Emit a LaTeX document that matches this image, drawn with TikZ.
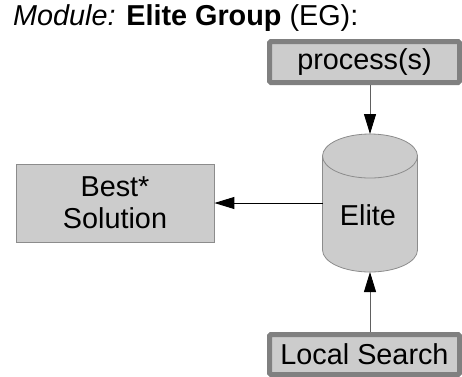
\documentclass[tikz,border=0pt]{standalone}
\usepackage{fontspec}
\setmainfont{Liberation Sans}
\usetikzlibrary{arrows.meta}

\definecolor{panelfill}{HTML}{CCCCCC}
\definecolor{thickedge}{HTML}{808080}
\definecolor{thinedge}{HTML}{8C8C8C}
\definecolor{feedline}{HTML}{606060}

\tikzset{
  bigtext/.style={font=\fontsize{28.8}{32}\selectfont},
  procbox/.style={bigtext, draw=thickedge, line width=5pt, fill=panelfill,
    rounded corners=1.5pt, minimum width=190pt, minimum height=41pt,
    inner sep=0pt},
  solbox/.style={bigtext, draw=thinedge, line width=0.8pt, fill=panelfill,
    minimum width=198pt, minimum height=78pt, align=center, inner sep=0pt},
  tipline/.style={line width=0.9pt, -{Triangle[length=20pt,width=12pt,color=black]}},
}

\begin{document}
\begin{tikzpicture}[x=1pt,y=1pt]
\useasboundingbox (0,0) rectangle (462,-376);

% heading
\node[bigtext, anchor=base west, inner sep=0pt] (title) at (13,-25)
  {\textit{Module:} \textbf{Elite Group} (EG):};

% elite store drawn as a cylinder
\filldraw[fill=panelfill, draw=thinedge, line width=0.8pt]
  (322.5,-156) -- (322.5,-250)
  arc[start angle=180, end angle=360, x radius=47.5, y radius=22]
  -- (417.5,-156)
  arc[start angle=0, end angle=180, x radius=47.5, y radius=22] -- cycle;
\draw[draw=thinedge, line width=0.8pt]
  (322.5,-156) arc[start angle=180, end angle=360, x radius=47.5, y radius=22];
\node[bigtext, inner sep=0pt] (elite) at (368,-215) {Elite};
\coordinate (eliteTop) at (370,-134);
\coordinate (eliteBot) at (370,-272);
\coordinate (eliteLeft) at (322.5,-203);

% boxes
\node[procbox] (proc) at (364.5,-62) {process(s)};
\node[procbox, minimum height=40pt] (ls) at (364.5,-354.5) {Local Search};
\node[solbox] (best) at (115,-203) {Best*\\Solution};

% connectors
\draw[tipline, draw=feedline] (proc.south -| eliteTop) -- (eliteTop);
\draw[tipline, draw=feedline] (ls.north -| eliteBot) -- (eliteBot);
\draw[tipline, draw=black] (eliteLeft) -- (best.east);
\end{tikzpicture}
\end{document}
